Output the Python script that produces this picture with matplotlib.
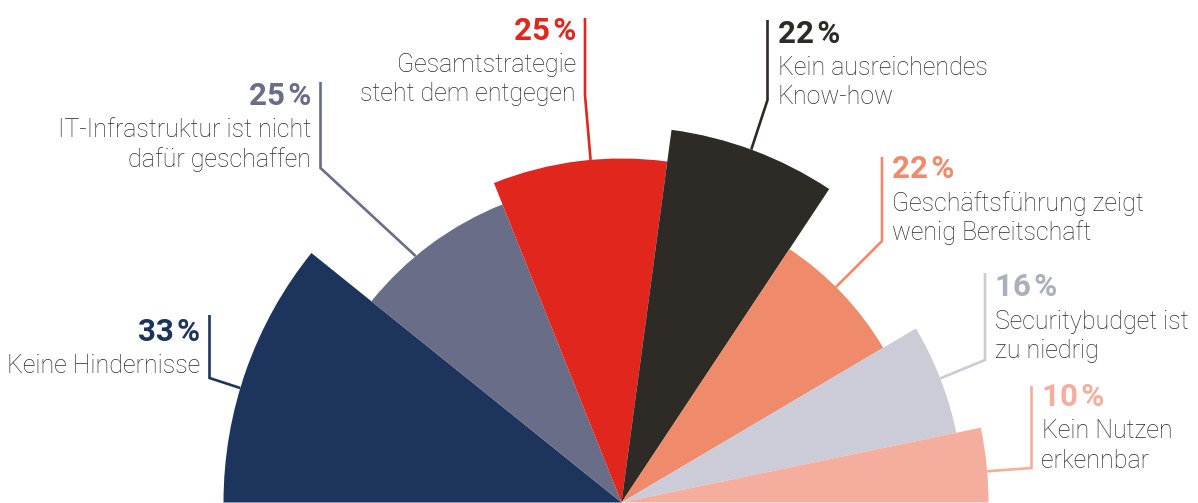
import numpy as np
import matplotlib
matplotlib.use("Agg")
import matplotlib.pyplot as plt
from matplotlib.patches import Wedge

# data (left to right around the half circle)
values = [33, 25, 25, 22, 22, 16, 10]
labels = ["Keine Hindernisse",
          "IT-Infrastruktur ist nicht\ndafür geschaffen",
          "Gesamtstrategie\nsteht dem entgegen",
          "Kein ausreichendes\nKnow-how",
          "Geschäftsführung zeigt\nwenig Bereitschaft",
          "Securitybudget ist\nzu niedrig",
          "Kein Nutzen\nerkennbar"]

# styling
colors = ["#1d355d", "#696d87", "#e1261d", "#2e2b27", "#ef8a6b", "#cbccd8", "#f5ae9e"]
pct_colors = ["#1d355d", "#696d87", "#e1261d", "#2e2b27", "#ef8a6b", "#a9b0bb", "#f5ae9e"]
radii = [398, 321, 344, 376, 304, 342, 367]
leader_offset = [2.7, 3.4, -1.9, 0.4, 1.6, 0.1, -1.0]   # degrees from wedge middle
# label layout: x of vertical leader, top, bend, side of text
leader_x = [209.5, 320.5, 585, 767.5, 882, 985, 1031.5]
leader_top = [315, 82, 18, 20, 157, 273, 386]
leader_bend = [378, 168, 95, 100, 241, 360, 468]
side = ["left", "left", "left", "right", "right", "right", "right"]
pct_base = [341, 105, 39.5, 42.5, 178.5, 296.5, 406.5]

W, H = 1198, 503
cx, cy = 621.5, 502.5

plt.rcParams['font.family'] = ['Roboto', 'DejaVu Sans']
fig = plt.figure(figsize=(W / 100, H / 100), dpi=100)
ax = fig.add_axes([0, 0, 1, 1])
ax.set_xlim(0, W)
ax.set_ylim(H, 0)
ax.axis('off')

scale = 180.0 / sum(values)
hi = 180.0
for i, v in enumerate(values):
    lo = hi - v * scale
    # y axis is inverted, so screen angles are negated
    ax.add_patch(Wedge((cx, cy), radii[i], -hi, -lo, color=colors[i], lw=0))

    mid = np.radians((hi + lo) / 2 + leader_offset[i])
    ex = cx + radii[i] * np.cos(mid)
    ey = cy - radii[i] * np.sin(mid)
    lx = leader_x[i]
    ax.plot([lx, lx, ex], [leader_top[i], leader_bend[i], ey],
            color=colors[i], lw=1.9, solid_joinstyle='miter', solid_capstyle='butt')

    if side[i] == "left":
        tx, ha = lx - 9, 'right'
    else:
        tx, ha = lx + 10, 'left'
    ax.text(tx, pct_base[i], f"{v}\u200a%", color=pct_colors[i], fontsize=22.5,
            fontweight='bold', ha=ha, va='baseline')
    for k, line in enumerate(labels[i].split("\n")):
        ax.text(tx, pct_base[i] + 32 + 29.5 * k, line, color="#2b2b2b",
                fontsize=18, fontweight='light', ha=ha, va='baseline')
    hi = lo

fig.savefig("out.png", dpi=100)
